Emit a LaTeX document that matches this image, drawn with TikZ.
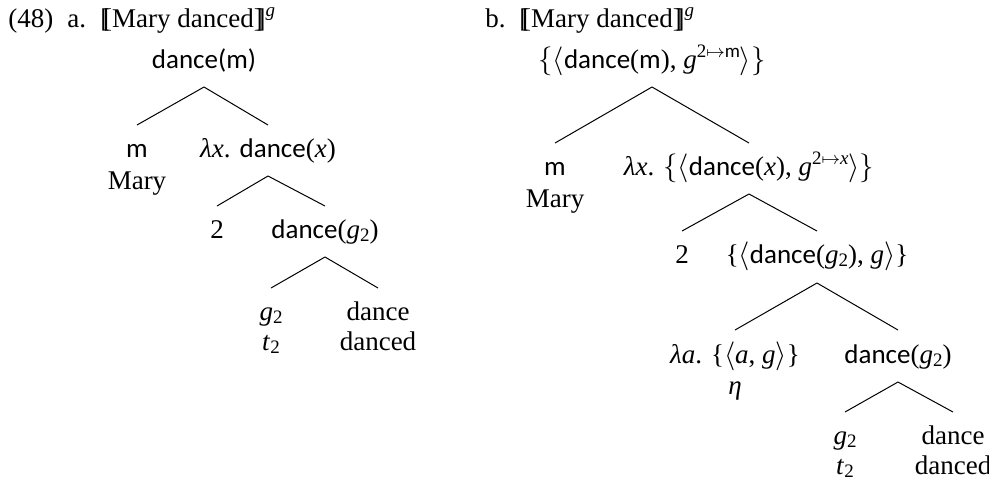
\documentclass[tikz,border=0pt]{standalone}
\usepackage{fontspec}
\setmainfont{Liberation Serif}
\newfontfamily\dfont{Carlito}
\usetikzlibrary{calc}
\newcommand\Dn[1]{{\dfont #1}}
\newcommand\lb{[\kern-0.23em[}
\newcommand\rb{]\kern-0.23em]}
\newcommand\Sb[1]{\raisebox{-0.3ex}{\fontsize{9.5}{10}\selectfont #1}}
\newcommand\Sp[1]{\raisebox{0.85ex}{\fontsize{9.5}{10}\selectfont #1}}
\tikzset{
  lbl/.style={anchor=base, inner sep=0pt, font=\fontsize{13.5}{16}\selectfont},
  hd/.style={anchor=base west, inner sep=0pt, font=\fontsize{13.5}{16}\selectfont},
  br/.style={line width=0.5pt},
}
\newcommand\branch[2]{\draw[br] ($(#1.base)+(0,19)$) -- ($(#2.base)+(0,-32)$);}
\begin{document}
\begin{tikzpicture}[x=0.5pt,y=-0.5pt]
\useasboundingbox (0,0) rectangle (989,484);
% headings
\node[hd] (num) at (8,27) {(48)};
\node[hd] (la) at (67,27) {a.};
\node[hd] (ha) at (100,27) {\lb Mary danced\rb\Sp{\textit{g}}};
\node[hd] (lb) at (485,27) {b.};
\node[hd] (hb) at (519,27) {\lb Mary danced\rb\Sp{\textit{g}}};
% tree a
\node[lbl] (ra) at (204,68) {\Dn{dance(m)}};
\node[lbl] (am) at (137,157) {\Dn{m}};
\node[lbl] (aMary) at (137,189) {Mary};
\node[lbl] (al) at (268,157) {\textit{λx}. \Dn{dance}(\textit{x})};
\node[lbl] (a2) at (217,238) {2};
\node[lbl] (ad) at (325,238) {\Dn{dance}(\textit{g}\Sb{2})};
\node[lbl] (ag) at (271,320) {\textit{g}\Sb{2}};
\node[lbl] (at) at (271,350) {\textit{t}\Sb{2}};
\node[lbl] (adance) at (378,320) {dance};
\node[lbl] (adanced) at (378,350) {danced};
\branch{ra}{am}
\branch{ra}{al}
\branch{al}{a2}
\branch{al}{ad}
\branch{ad}{ag}
\branch{ad}{adance}
% tree b
\node[lbl] (rb) at (652,68) {$\big\{\big\langle$\Dn{dance}(\Dn{m}), \textit{g}\Sp{2$\mapsto$\Dn{m}}$\big\rangle\big\}$};
\node[lbl] (bm) at (555,175) {\Dn{m}};
\node[lbl] (bMary) at (555,207) {Mary};
\node[lbl] (bl) at (749,175) {\textit{λx}. $\big\{\big\langle$\Dn{dance}(\textit{x}), \textit{g}\Sp{2$\mapsto$\textit{x}}$\big\rangle\big\}$};
\node[lbl] (b2) at (682,263) {2};
\node[lbl] (bs) at (817,263) {\{$\langle$\Dn{dance}(\textit{g}\Sb{2}), \textit{g}$\rangle$\}};
\node[lbl] (bla) at (735,363) {\textit{λa}. \{$\langle$\textit{a}, \textit{g}$\rangle$\}};
\node[lbl] (beta) at (735,394) {\textit{η}};
\node[lbl] (bd) at (898,363) {\Dn{dance}(\textit{g}\Sb{2})};
\node[lbl] (bg) at (845,444) {\textit{g}\Sb{2}};
\node[lbl] (bt) at (845,474) {\textit{t}\Sb{2}};
\node[lbl] (bdance) at (953,444) {dance};
\node[lbl] (bdanced) at (953,474) {danced};
\draw[br] ($(rb.base)+(0,19)$) -- ($(bm.base)+(0,-32)$);
\draw[br] ($(rb.base)+(0,19)$) -- ($(bl.base)+(0,-32)$);
\branch{bl}{b2}
\branch{bl}{bs}
\draw[br] ($(bs.base)+(0,20)$) -- ($(bla.base)+(0,-33)$);
\draw[br] ($(bs.base)+(0,20)$) -- ($(bd.base)+(0,-33)$);
\branch{bd}{bg}
\branch{bd}{bdance}
\end{tikzpicture}
\end{document}
